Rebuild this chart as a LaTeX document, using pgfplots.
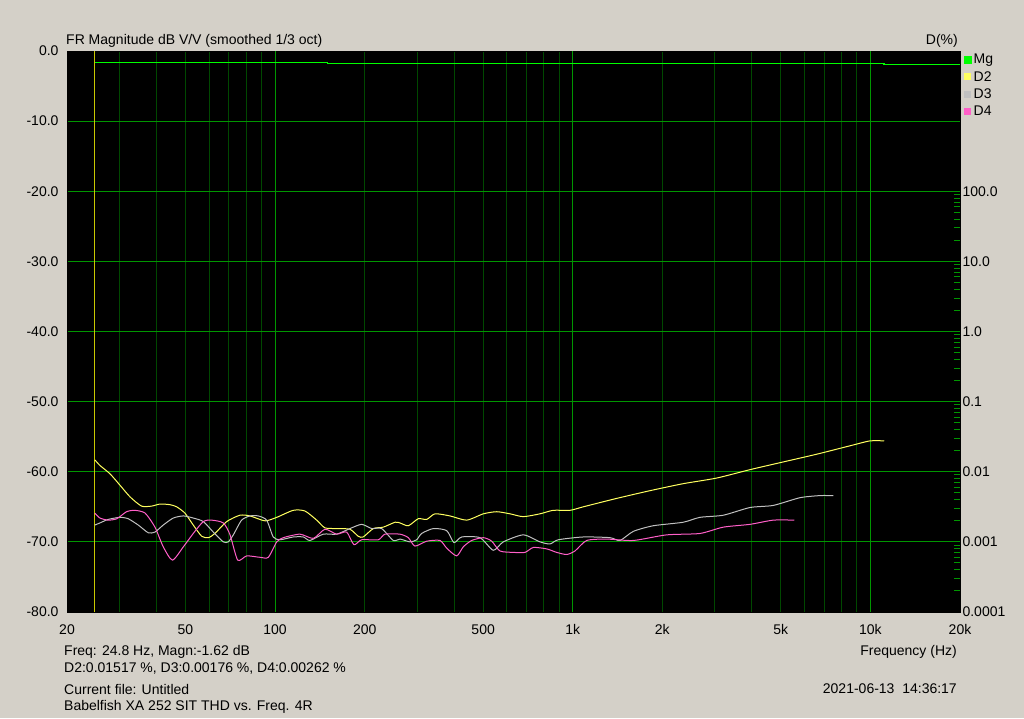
\documentclass[border=0pt]{standalone}
\usepackage{pgfplots}
\pgfplotsset{compat=1.18}
\usepackage{fontspec}
\setmainfont{Liberation Sans}
\definecolor{bg}{HTML}{D4D0C8}
\definecolor{gmaj}{HTML}{009600}
\definecolor{gmin}{HTML}{004800}
\definecolor{mg}{HTML}{00FF00}
\definecolor{dtwo}{HTML}{FFFF60}
\definecolor{dthree}{HTML}{C0C0C0}
\definecolor{dfour}{HTML}{FF5FC8}
\definecolor{cursor}{HTML}{C8C800}
\newcommand{\tfont}{\fontsize{14}{16}\selectfont}
\begin{document}
\begin{tikzpicture}[x=1pt,y=1pt]
\fill[bg] (0,0) rectangle (1024,718);
\begin{axis}[
 at={(67pt,106pt)}, anchor=south west,
 scale only axis, width=893pt, height=561pt,
 xmode=log, xmin=20, xmax=20000, ymin=-80, ymax=0,
 axis background/.style={fill=black},
 axis line style={draw=black},
 xtick={20,50,100,200,500,1000,2000,5000,10000,20000},
 xticklabels={20,50,100,200,500,1k,2k,5k,10k,20k},
 xticklabel style={yshift=-9pt},
 minor xtick={30,40,50,60,70,80,90,200,300,400,500,600,700,800,900,2000,3000,4000,5000,6000,7000,8000,9000},
 xminorgrids=true,
 minor grid style={gmin, line width=1pt},
 extra x ticks={100,1000,10000},
 extra x tick labels={},
 extra x tick style={grid=major, major grid style={gmaj, line width=1pt}},
 ytick={-70,-60,-50,-40,-30,-20,-10},
 yticklabels={-70.0,-60.0,-50.0,-40.0,-30.0,-20.0,-10.0},
 extra y ticks={-80,0},
 extra y tick labels={-80.0,0.0},
 extra y tick style={grid=none},
 yticklabel style={xshift=-5pt},
 ymajorgrids=true,
 major grid style={gmaj, line width=1pt},
 major tick length=0pt, minor tick length=0pt,
 tick label style={font=\tfont},
 legend image code/.code={\fill[#1] (0pt,-3pt) rectangle (6pt,3pt);},
 legend style={at={(1,1)}, anchor=north west, draw=none, fill=none, font=\tfont,
   xshift=3pt, yshift=0pt, row sep=2pt, inner sep=1pt, cells={anchor=west}},
]
\addplot[cursor, line width=1pt, forget plot] coordinates {(24.8,-80) (24.8,0)};
\addplot[mg, line width=1.5pt] coordinates {
(24.8,-1.62) (150,-1.62) (150,-1.76) (11100,-1.76) (11100,-1.9) (20000,-1.9)};
\addplot[dtwo, line width=1pt, smooth, tension=0.4] coordinates {
(24.8,-58.3) (25.8,-59.1) (27.9,-60.3) (30.1,-61.9) (32.6,-63.6) (35.6,-64.9) (38.5,-64.9) (41.1,-64.6) (44.4,-64.7) (46.7,-65.0) (49.8,-65.9) (53.1,-67.6) (56.7,-69.2) (59.7,-69.4) (62.8,-68.8) (68.8,-67.1) (76.2,-66.2) (82.4,-66.3) (92.5,-67.0) (101.3,-66.5) (115.1,-65.5) (126.0,-65.6) (138.0,-66.9) (147.1,-68.0) (161.0,-68.1) (178.5,-68.2) (190.3,-69.2) (197.8,-69.3) (213.8,-68.1) (230.9,-67.9) (252.9,-67.2) (262.8,-67.3) (280.3,-67.7) (302.7,-66.7) (323.2,-66.8) (344.6,-66.0) (387.0,-66.3) (440.2,-66.9) (500.7,-66.0) (555.2,-65.7) (615.5,-66.0) (682.2,-66.4) (776.2,-66.0) (860.3,-65.5) (978.8,-65.5) (1085,-65.0) (1405,-63.8) (1817,-62.7) (2350,-61.7) (3044,-60.9) (3940,-59.7) (5096,-58.6) (6598,-57.5) (8538,-56.3) (9964,-55.6) (11128,-55.6)};
\addplot[dthree, line width=1pt, smooth, tension=0.4] coordinates {
(24.8,-67.6) (25.8,-67.3) (27.5,-66.8) (30.1,-66.5) (32.1,-66.7) (34.7,-67.6) (37.5,-68.7) (39.5,-68.6) (42.1,-67.6) (45.5,-66.6) (49.2,-66.3) (53.1,-66.6) (57.4,-67.1) (62.0,-68.6) (67.0,-70.0) (69.6,-70.0) (72.4,-69.0) (77.2,-66.9) (82.4,-66.3) (87.8,-66.3) (93.7,-66.9) (98.6,-69.3) (103.9,-69.7) (115.1,-69.3) (124.4,-69.3) (131.0,-69.8) (145.2,-68.9) (161.0,-68.9) (178.5,-68.1) (195.4,-67.5) (211.2,-68.1) (228.0,-68.1) (249.6,-69.8) (262.8,-69.6) (284.0,-70.0) (299.0,-69.7) (310.8,-68.8) (340.1,-68.1) (377.3,-68.4) (399.0,-70.1) (423.6,-69.3) (488.0,-69.4) (540.8,-71.2) (584.4,-70.0) (682.2,-69.0) (776.2,-70.0) (838.5,-70.3) (894.0,-69.7) (1085,-69.3) (1334,-69.4) (1441,-69.8) (1598,-68.5) (1864,-67.7) (2350,-67.2) (2675,-66.5) (3204,-66.2) (3940,-65.1) (4716,-64.8) (5800,-63.7) (6768,-63.4) (7502,-63.4)};
\addplot[dfour, line width=1pt, smooth, tension=0.4] coordinates {
(24.8,-65.9) (25.8,-66.6) (27.5,-66.9) (29.4,-66.7) (31.7,-65.7) (33.8,-65.5) (36.6,-65.9) (39.5,-67.9) (42.1,-70.7) (45.2,-72.6) (49.2,-70.7) (53.1,-68.8) (57.4,-67.1) (61.2,-66.9) (67.0,-67.3) (70.6,-69.0) (74.9,-72.6) (80.3,-72.0) (89.0,-72.2) (94.9,-72.2) (101.3,-70.0) (106.6,-69.4) (121.2,-68.9) (134.4,-69.5) (147.1,-68.2) (161.0,-68.9) (174.0,-68.6) (184.1,-70.4) (195.4,-69.7) (222.2,-69.7) (234.0,-68.9) (262.8,-68.9) (280.3,-69.4) (295.1,-70.6) (323.2,-69.9) (358.2,-69.8) (377.3,-70.9) (407.4,-72.0) (428.9,-70.7) (457.6,-69.8) (500.7,-69.4) (534.3,-69.9) (569.6,-71.3) (631.4,-71.5) (691.2,-71.5) (737.1,-70.8) (817.4,-71.0) (883.1,-71.5) (954.0,-71.8) (1017,-71.3) (1114,-69.8) (1300,-69.6) (1598,-69.8) (2067,-69.0) (2675,-68.8) (3204,-67.9) (3940,-67.5) (4716,-66.9) (5548,-66.9)};
\legend{Mg,D2,D3,D4}
\end{axis}
\begin{axis}[
 at={(67pt,106pt)}, anchor=south west,
 scale only axis, width=893pt, height=561pt,
 xmode=log, xmin=20, xmax=20000, ymin=-80, ymax=0,
 axis x line=none, axis y line*=right,
 y axis line style={draw=none},
 ytick={-80,-70,-60,-50,-40,-30,-20},
 yticklabels={0.0001,0.001,0.01,0.1,1.0,10.0,100.0},
 minor ytick={-76.99,-75.23,-73.98,-73.01,-72.22,-71.55,-70.97,-70.46,
 -66.99,-65.23,-63.98,-63.01,-62.22,-61.55,-60.97,-60.46,
 -56.99,-55.23,-53.98,-53.01,-52.22,-51.55,-50.97,-50.46,
 -46.99,-45.23,-43.98,-43.01,-42.22,-41.55,-40.97,-40.46,
 -36.99,-35.23,-33.98,-33.01,-32.22,-31.55,-30.97,-30.46,
 -26.99,-25.23,-23.98,-23.01,-22.22,-21.55,-20.97,-20.46},
 major tick length=0pt, minor tick length=6pt, tick align=inside,
 minor tick style={gmaj, line width=1pt},
 tick label style={font=\tfont},
 yticklabel style={xshift=-1pt},
]
\addplot[draw=none] coordinates {(100,-50)};
\end{axis}
\node[anchor=west, font=\tfont, inner sep=0pt] at (66,677) {FR Magnitude dB V/V (smoothed 1/3 oct)};
\node[anchor=east, font=\tfont, inner sep=0pt] at (958,677) {D(\%)};
\node[anchor=west, font=\tfont, inner sep=0pt] at (64,66.5) {Freq: 24.8 Hz, Magn:-1.62 dB};
\node[anchor=west, font=\tfont, inner sep=0pt] at (64,49) {D2:0.01517 \%, D3:0.00176 \%, D4:0.00262 \%};
\node[anchor=west, font=\tfont, inner sep=0pt] at (64,29) {Current file: Untitled};
\node[anchor=west, font=\tfont, inner sep=0pt] at (64,11) {Babelfish XA 252 SIT THD vs. Freq. 4R};
\node[anchor=east, font=\tfont, inner sep=0pt] at (957,66.5) {Frequency (Hz)};
\node[anchor=east, font=\tfont, inner sep=0pt] at (957,29) {2021-06-13\ \ 14:36:17};
\pgfresetboundingbox
\useasboundingbox (0,0) rectangle (1024,718);
\end{tikzpicture}
\end{document}
